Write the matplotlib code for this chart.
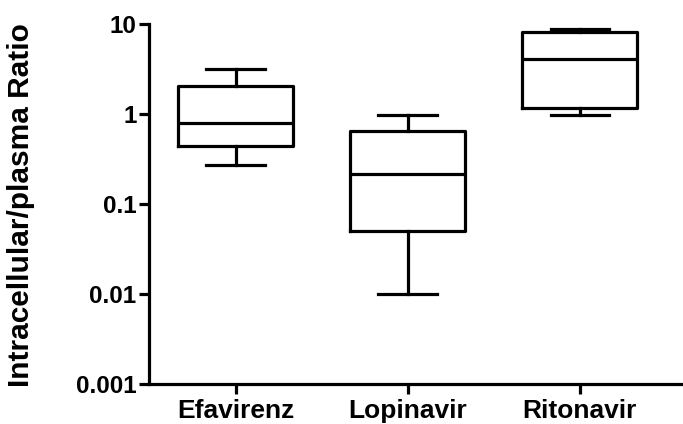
import matplotlib
matplotlib.use("Agg")
import matplotlib.pyplot as plt

plt.rcParams['font.family'] = ['Liberation Sans', 'DejaVu Sans']
plt.rcParams['font.weight'] = 'bold'

# box summary values
drugs = ["Efavirenz", "Lopinavir", "Ritonavir"]
whisker_low = [0.27, 0.01, 0.98]
q1 = [0.445, 0.05, 1.16]
medians = [0.80, 0.214, 4.1]
q3 = [2.08, 0.65, 8.1]
whisker_high = [3.15, 0.98, 8.9]

stats = []
for i, name in enumerate(drugs):
    stats.append({
        "label": name,
        "whislo": whisker_low[i],
        "q1": q1[i],
        "med": medians[i],
        "q3": q3[i],
        "whishi": whisker_high[i],
        "fliers": [],
    })

lw = 2.3
fig = plt.figure(figsize=(6.83, 4.24), dpi=100)
ax = fig.add_axes([0.218, 0.094, 0.782, 0.849])

ax.bxp(stats, positions=[1, 2, 3], widths=0.67, capwidths=0.34,
       showfliers=False,
       boxprops=dict(color="black", linewidth=lw),
       medianprops=dict(color="black", linewidth=lw),
       whiskerprops=dict(color="black", linewidth=lw),
       capprops=dict(color="black", linewidth=lw))

ax.set_yscale("log")
ax.set_ylim(0.001, 10)
ax.set_xlim(0.496, 3.6)
ax.set_yticks([0.001, 0.01, 0.1, 1, 10])
ax.set_yticklabels(["0.001", "0.01", "0.1", "1", "10"])
ax.minorticks_off()
ax.set_xticks([1, 2, 3])
ax.set_xticklabels(drugs)

for side in ["top", "right"]:
    ax.spines[side].set_visible(False)
for side in ["left", "bottom"]:
    ax.spines[side].set_linewidth(lw)

ax.tick_params(axis="both", direction="out", length=7, width=lw)
ax.tick_params(axis="y", labelsize=17.5, pad=2)
ax.tick_params(axis="x", labelsize=19, pad=4)
ax.set_ylabel("Intracellular/plasma Ratio", fontsize=21.5, fontweight="bold")
ax.yaxis.set_label_coords(-0.213, 0.497)

fig.savefig("out.png", dpi=100)
